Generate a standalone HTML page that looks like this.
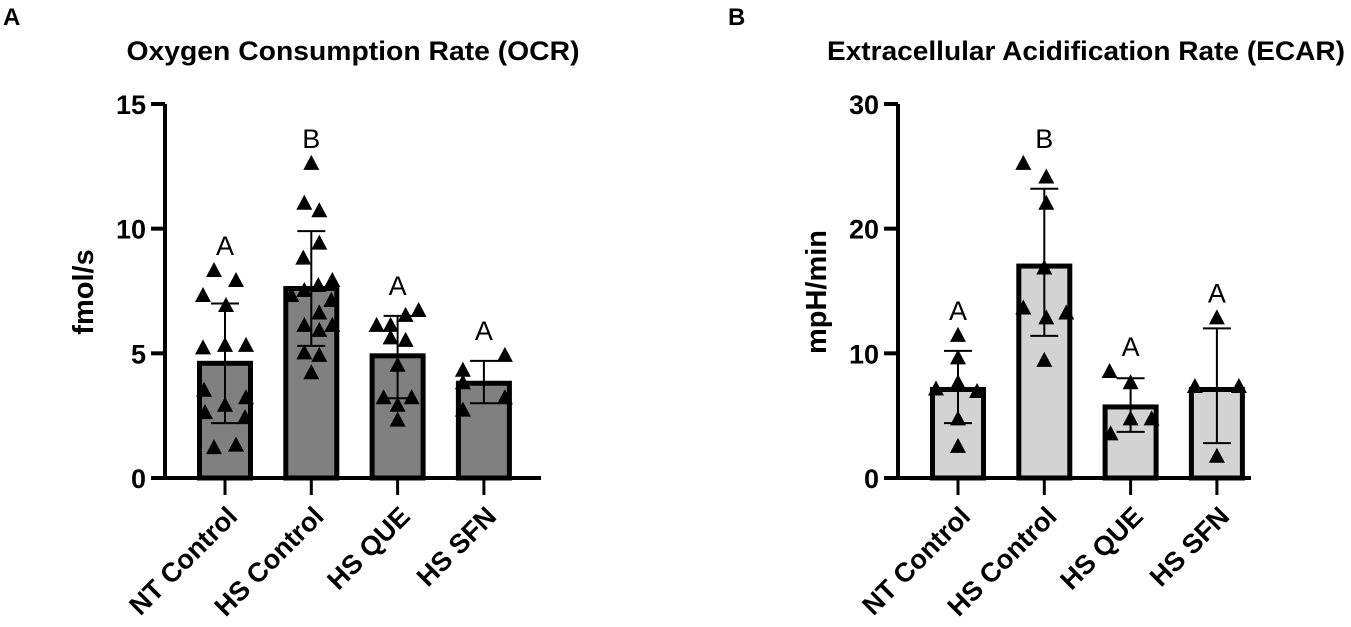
<!DOCTYPE html>
<html><head><meta charset="utf-8"><style>
body{margin:0;background:#fff;width:1351px;height:627px;overflow:hidden}
svg{display:block;font-family:"Liberation Sans",Arial,sans-serif}
</style></head><body>
<svg id="fig" width="1351" height="627"></svg>
<script>
const categories=["NT Control","HS Control","HS QUE","HS SFN"];
const ocrMeans=[4.6,7.6,4.9,3.8];
const ocrLow=[2.2,5.3,3.2,3.0];
const ocrHigh=[7.0,9.9,6.5,4.7];
const ocrLetters=["A","B","A","A"];
const ocrPoints=[
[8.3,7.9,7.3,6.9,5.2,5.3,5.3,3.5,3.2,2.9,2.6,2.4,1.2,1.3],
[12.6,11.0,10.7,9.4,8.8,7.9,7.7,7.5,7.3,7.1,6.6,6.1,5.9,6.1,5.0,4.9,4.2],
[6.7,6.5,6.1,6.1,5.6,5.5,4.5,3.2,3.2,2.9,2.3],
[4.9,4.3,3.8,3.2,2.7]];
const ocrOffsets=[
[-11,11,-22,1,-22,0,21,-21,21,0,-20,20,-11,11],
[0,-7,8,8,-8,21,7,-7,-20,20,8,-7,8,21,-7,8,0],
[21,8,-7,-21,-7,8,0,-14,14,0,0],
[21,-21,-21,21,-21]];
const ecarMeans=[7.1,17.0,5.7,7.1];
const ecarLow=[4.4,11.4,3.7,2.8];
const ecarHigh=[10.2,23.2,8.0,12.0];
const ecarLetters=["A","B","A","A"];
const ecarPoints=[
[11.4,9.6,7.6,7.1,6.9,4.7,2.5],
[25.2,24.1,22.0,16.8,13.6,12.8,13.2,9.4],
[8.5,7.6,4.7,4.7,3.5],
[12.8,7.3,7.3,1.7]];
const ecarOffsets=[
[0,0,0,-22,19,0,0],
[-21,2,2,0,-21,2,22,0],
[-21,0,0,21,-20],
[0,-22,22,0]];
const ocrTicks=[0,5,10,15];
const ecarTicks=[0,10,20,30];

const svg=document.getElementById('fig');
const NS='http://www.w3.org/2000/svg';
function mk(tag,attrs,parent){const e=document.createElementNS(NS,tag);for(const k in attrs)e.setAttribute(k,attrs[k]);(parent||svg).appendChild(e);return e;}

function panel(o){
  const g=mk('g',{});
  
  
  const y0=478,y1=104;
  const yS=v=>y0-(v/o.max)*(y0-y1);
  const xS=i=>o.x0+i*o.step;
  const pl=mk('text',{x:o.letterX,y:25,'font-size':24,'font-weight':'bold'},g);pl.textContent=o.letter;
  
  
  const t=mk('text',{x:o.titleX,y:60,'font-size':27,'font-weight':'bold','text-anchor':'middle',textLength:o.titleW,lengthAdjust:'spacingAndGlyphs'},g);t.textContent=o.title;
  
  
  const yt=mk('text',{x:0,y:0,'font-size':29,'font-weight':'bold','text-anchor':'middle',transform:`translate(${o.axisX-72},${292}) rotate(-90)`},g);yt.textContent=o.ytitle;
  
  
  for(let i=0;i<4;i++){
    const cx=xS(i),top=yS(o.means[i]);
    const b=mk('rect',{x:cx-25.5,y:top,width:51,height:y0-top,fill:o.fill,stroke:'#000','stroke-width':5},g);
    
    
  }
  for(let i=0;i<4;i++){
    o.pts[i].forEach((v,j)=>{
      const px=xS(i)+o.offs[i][j],py=yS(v);
      const p=mk('polygon',{points:`${px},${py-9} ${px-8},${py+6} ${px+8},${py+6}`,fill:'#000'},g);
      
      
    });
  }
  for(let i=0;i<4;i++){
    const cx=xS(i),lo=yS(o.low[i]),hi=yS(o.high[i]);
    const e=mk('path',{d:`M${cx},${lo}V${hi}M${cx-14},${hi}H${cx+14}M${cx-14},${lo}H${cx+14}`,stroke:'#000','stroke-width':2,fill:'none'},g);
    
    
    const l=mk('text',{x:cx,y:Math.min(hi-2,yS(Math.max(...o.pts[i])))-16,'font-size':27,'text-anchor':'middle'},g);
    l.textContent=o.letters[i];
    
    
  }
  const ax=mk('path',{d:`M${o.axisX},${y1}V${y0}H${o.axisEnd}`,stroke:'#000','stroke-width':4,fill:'none'},g);
  
  
  o.ticks.forEach(v=>{
    const y=yS(v);
    mk('line',{x1:o.axisX-14,x2:o.axisX,y1:y,y2:y,stroke:'#000','stroke-width':4},g);
    const tl=mk('text',{x:o.axisX-19,y:y+10,'font-size':27,'font-weight':'bold','text-anchor':'end'},g);tl.textContent=v;
    
    
  });
  for(let i=0;i<4;i++){
    const cx=xS(i);
    mk('line',{x1:cx,x2:cx,y1:y0,y2:y0+17,stroke:'#000','stroke-width':3},g);
    const xl=mk('text',{x:0,y:0,'font-size':27,'font-weight':'bold','text-anchor':'end',transform:`translate(${cx+14},${y0+40}) rotate(-45)`},g);
    xl.textContent=categories[i];
    
    
  }
}
panel({name:'ocr-chart',letter:'A',letterX:3,title:'Oxygen Consumption Rate (OCR)',titleX:353,titleW:453,ytitle:'fmol/s',axisX:165,axisEnd:541,x0:225,step:86.3,max:15,ticks:ocrTicks,means:ocrMeans,low:ocrLow,high:ocrHigh,letters:ocrLetters,pts:ocrPoints,offs:ocrOffsets,fill:'#808080'});
panel({name:'ecar-chart',letter:'B',letterX:728,title:'Extracellular Acidification Rate (ECAR)',titleX:1086,titleW:518,ytitle:'mpH/min',axisX:898,axisEnd:1251,x0:958,step:86.3,max:30,ticks:ecarTicks,means:ecarMeans,low:ecarLow,high:ecarHigh,letters:ecarLetters,pts:ecarPoints,offs:ecarOffsets,fill:'#d3d3d3'});
</script>
</body></html>
